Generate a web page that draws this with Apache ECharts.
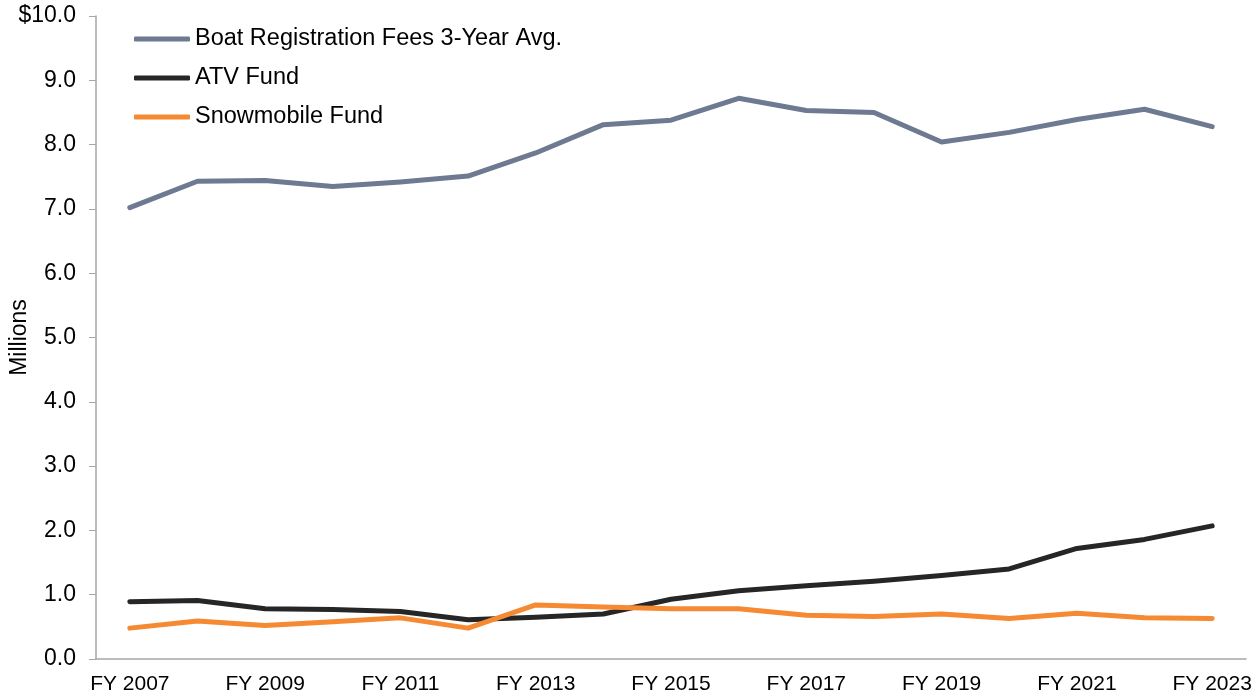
<!DOCTYPE html>
<html>
<head>
<meta charset="utf-8">
<script src="https://cdn.jsdelivr.net/npm/echarts@6/dist/echarts.min.js"></script>
<style>
  html, body { margin: 0; padding: 0; background: #fff; }
  #chart { width: 1259px; height: 698px; }
</style>
</head>
<body>
<div id="chart"></div>
<script>
// fiscal years on the x axis
var years = ['FY 2007', 'FY 2008', 'FY 2009', 'FY 2010', 'FY 2011', 'FY 2012', 'FY 2013', 'FY 2014',
  'FY 2015', 'FY 2016', 'FY 2017', 'FY 2018', 'FY 2019', 'FY 2020', 'FY 2021', 'FY 2022', 'FY 2023'];

// values in millions
var boatFees = [7.02, 7.43, 7.44, 7.35, 7.42, 7.51, 7.87, 8.31, 8.38, 8.72, 8.53, 8.50, 8.04, 8.19, 8.39, 8.55, 8.28];
var atvFund = [0.89, 0.91, 0.78, 0.77, 0.74, 0.61, 0.65, 0.70, 0.93, 1.06, 1.14, 1.21, 1.30, 1.40, 1.72, 1.86, 2.07];
var snowFund = [0.48, 0.59, 0.52, 0.58, 0.64, 0.48, 0.84, 0.81, 0.78, 0.78, 0.68, 0.66, 0.70, 0.63, 0.71, 0.64, 0.63];

var seriesNames = ['Boat Registration Fees 3-Year Avg.', 'ATV Fund', 'Snowmobile Fund'];
var colors = ['#6d7a91', '#262626', '#f58a33'];

(function(){
  var font = 'Liberation Sans, Arial, sans-serif';
  var axisGray = '#a6a6a6';

  function line(name, data, color){
    return {
      name: name,
      type: 'line',
      data: data,
      symbol: 'none',
      lineStyle: { width: 5, color: color, cap: 'round', join: 'round' },
      itemStyle: { color: color }
    };
  }

  var option = {
    animation: false,
    textStyle: { fontFamily: font },
    legend: {
      orient: 'vertical',
      left: 129,
      top: 22,
      itemWidth: 56,
      itemHeight: 5,
      itemGap: 15,
      icon: 'roundRect',
      textStyle: { fontSize: 23.5, color: '#000', fontFamily: font },
      data: seriesNames
    },
    grid: {
      left: 96,
      right: 13,
      top: 16,
      bottom: 39,
      containLabel: false,
      outerBoundsMode: 'none'
    },
    xAxis: {
      type: 'category',
      data: years,
      boundaryGap: true,
      axisLine: { lineStyle: { color: axisGray, width: 1.5 } },
      axisTick: { alignWithLabel: true, length: 5, lineStyle: { color: axisGray } },
      axisLabel: {
        interval: 1,
        color: '#000',
        fontSize: 21,
        margin: 15,
        fontFamily: font
      }
    },
    yAxis: {
      type: 'value',
      min: 0,
      max: 10,
      interval: 1,
      name: 'Millions',
      nameLocation: 'middle',
      nameGap: 65,
      nameRotate: 90,
      nameMoveOverlap: false,
      nameTextStyle: { fontSize: 23, color: '#000', fontFamily: font },
      axisLine: { show: true, lineStyle: { color: axisGray, width: 1.5 } },
      axisTick: { show: true, length: 7, lineStyle: { color: axisGray } },
      splitLine: { show: false },
      axisLabel: {
        color: '#000',
        fontSize: 23,
        margin: 20,
        fontFamily: font,
        formatter: function(v){
          return v === 10 ? '$10.0' : v.toFixed(1);
        }
      }
    },
    series: [
      line(seriesNames[0], boatFees, colors[0]),
      line(seriesNames[1], atvFund, colors[1]),
      line(seriesNames[2], snowFund, colors[2])
    ]
  };

  var myChart = echarts.init(document.getElementById('chart'));
  myChart.setOption(option);
})();
</script>
</body>
</html>
